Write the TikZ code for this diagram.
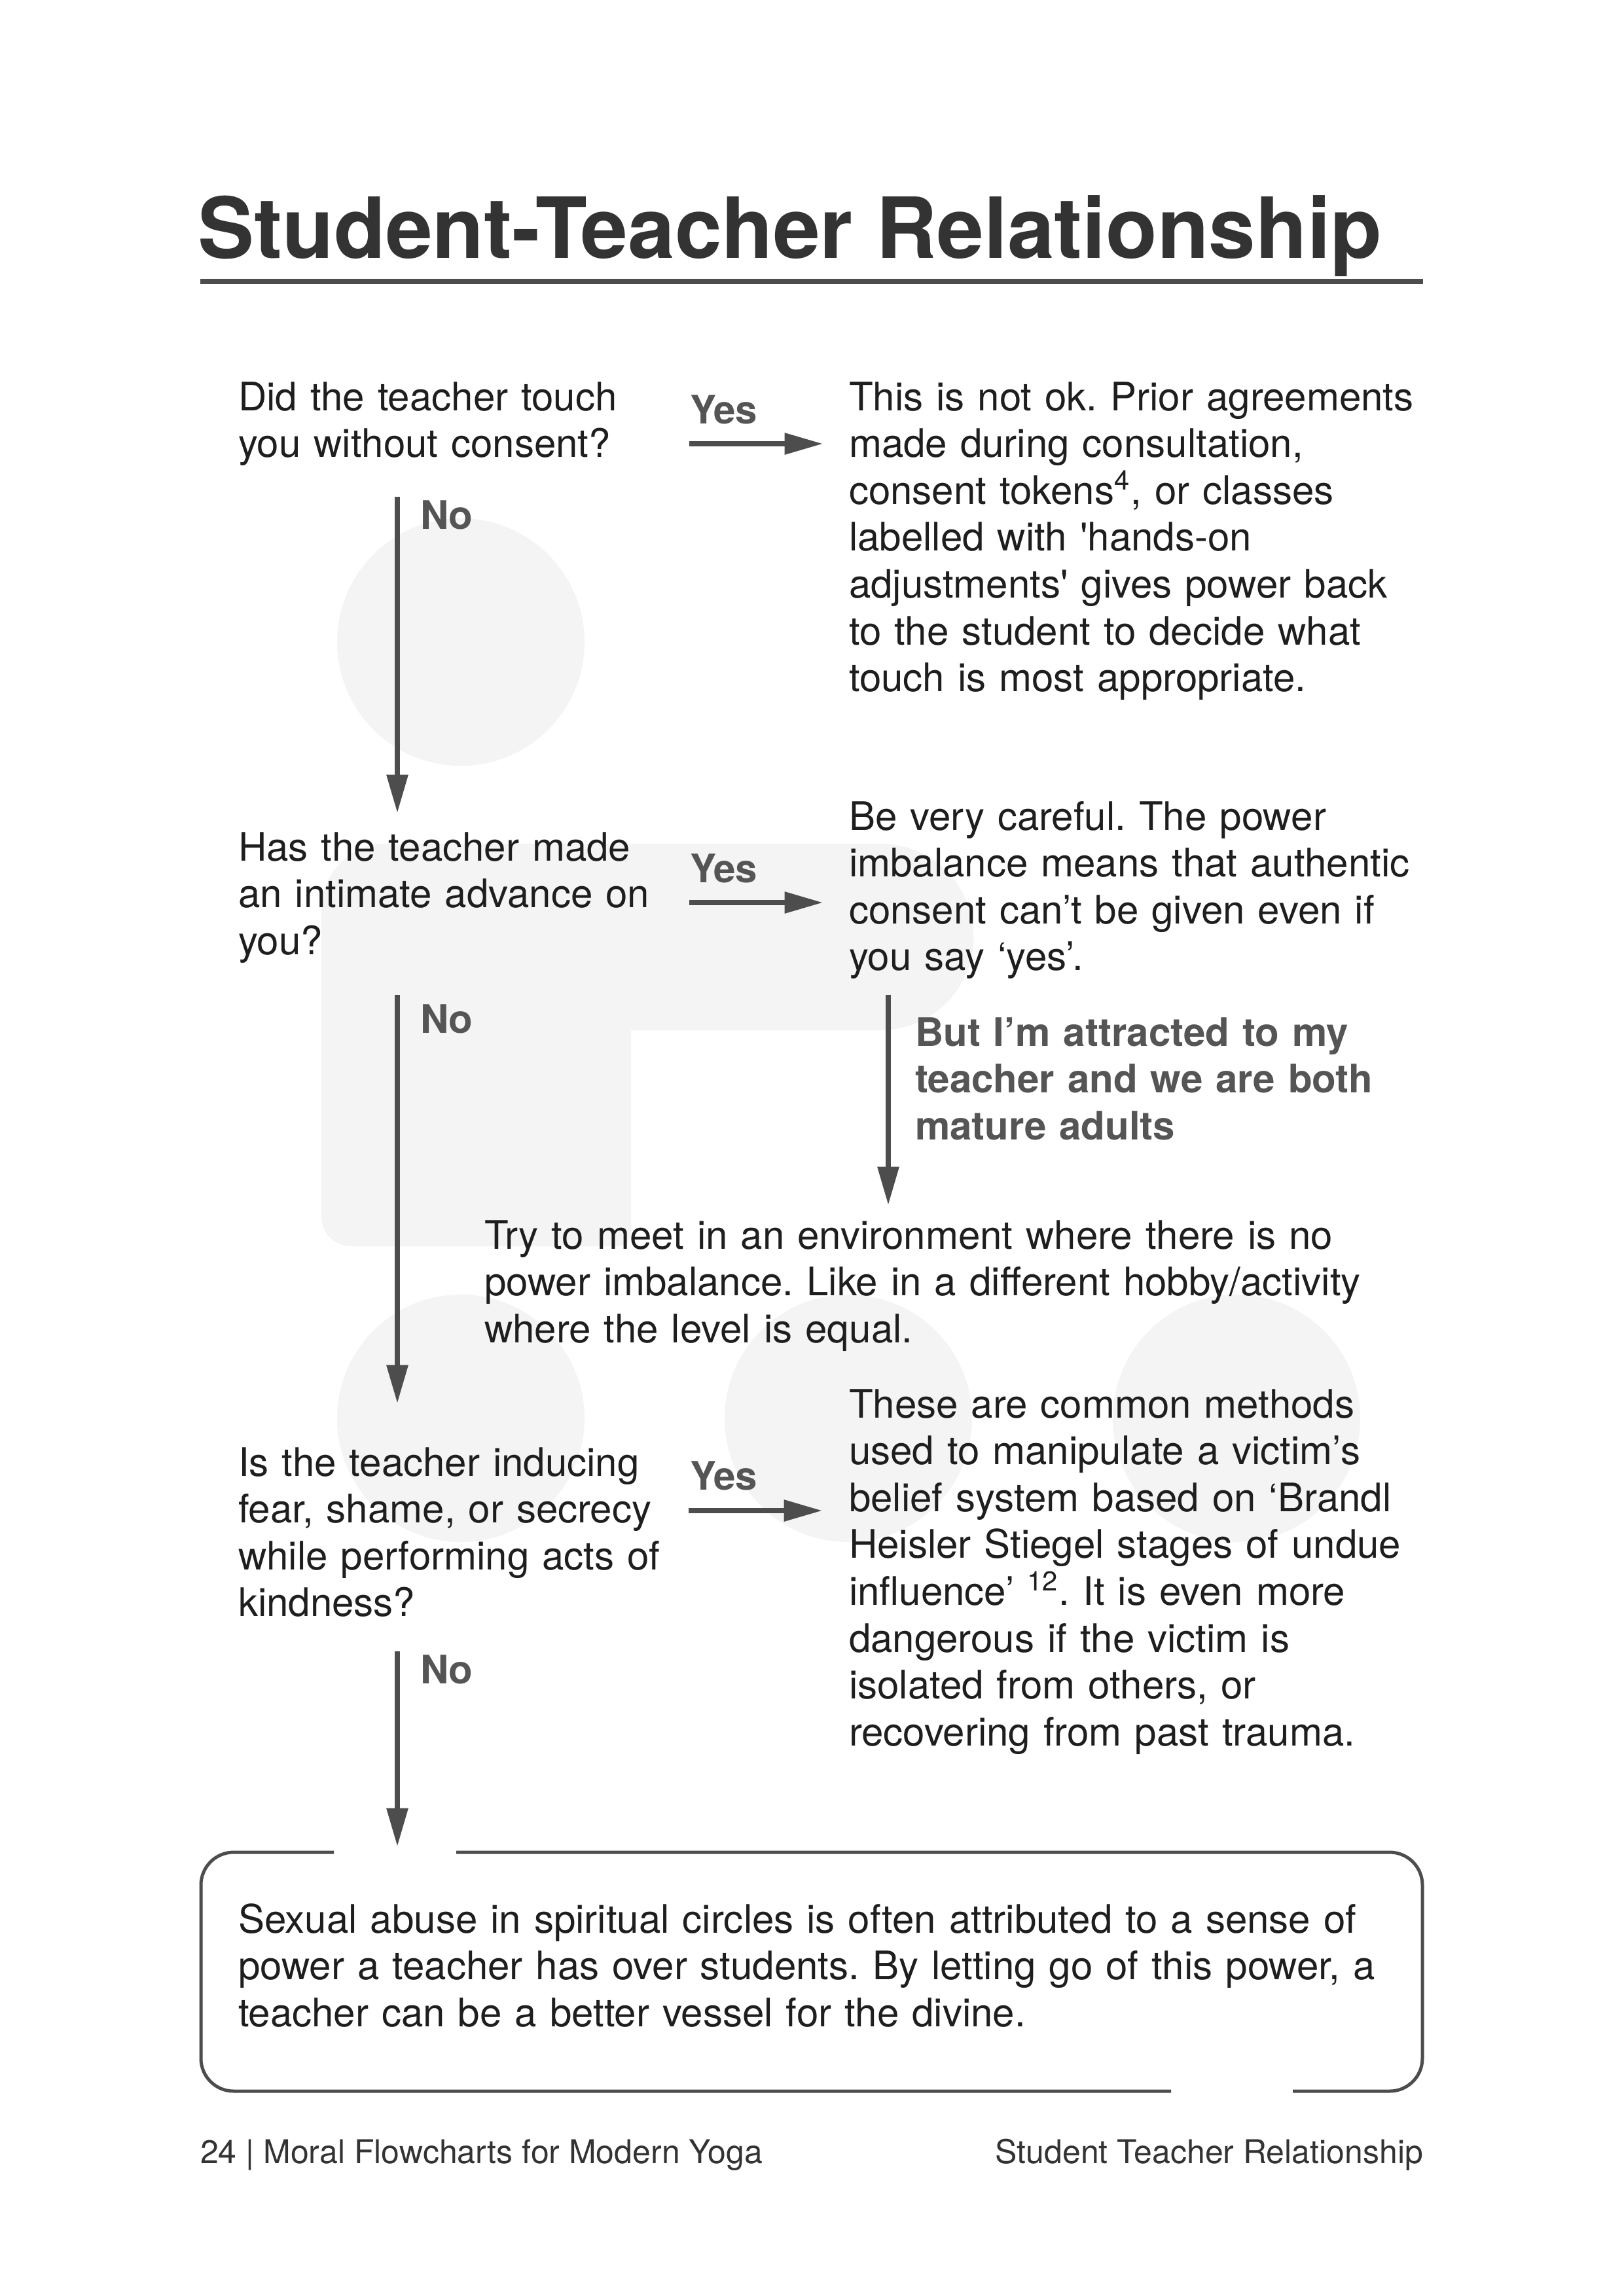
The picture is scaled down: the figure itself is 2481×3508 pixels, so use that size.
\documentclass[tikz,border=0pt]{standalone}
\usepackage{fontspec}
\setmainfont{TeX Gyre Heros}[Ligatures=TeXOff]
\usetikzlibrary{arrows.meta}
\definecolor{txt}{HTML}{1E1E1E}
\definecolor{lbl}{HTML}{555555}
\definecolor{arr}{HTML}{4D4D4D}
\definecolor{ttl}{HTML}{333333}
\definecolor{bg}{HTML}{F4F4F4}
\frenchspacing
\begin{document}
\frenchspacing
\begin{tikzpicture}[x=0.23993pt,y=-0.23993pt,
  body/.style={anchor=base west, inner sep=0pt, outer sep=0pt, text width=#1, align=left, text=txt, font=\fontsize{14.4}{17.18}\selectfont\frenchspacing},
  body/.default=260pt,
  lab/.style={anchor=base west, inner sep=0pt, outer sep=0pt, text=lbl, font=\fontsize{14.4}{17.18}\selectfont\bfseries\frenchspacing},
  flow/.style={draw=arr, line width=1.7pt, -{Triangle[length=14pt,width=7.6pt]}},
  foot/.style={inner sep=0pt, outer sep=0pt, text=ttl, font=\fontsize{12}{14}\selectfont}]
% page
\fill[white] (0,0) rectangle (2481,3508);
\useasboundingbox (0,0) rectangle (2481,3508);
% background logo shapes
\fill[bg] (704,981) circle[radius=189];
\fill[bg] (704,2167) circle[radius=189];
\fill[bg] (1296,2167) circle[radius=189];
\fill[bg] (1889,2167) circle[radius=189];
\fill[bg] (491,1389) arc[start angle=180, end angle=270, radius=100]
  -- (1345,1289) arc[start angle=270, end angle=450, radius=142.5]
  -- (964,1574) -- (964,1884) arc[start angle=0, end angle=90, radius=20]
  -- (536,1904) arc[start angle=90, end angle=180, radius=45] -- cycle;
% title
\node[anchor=base west, inner sep=0pt, text=ttl, font=\fontsize{30.9}{36}\selectfont\bfseries] (title) at (302,394) {Student-Teacher Relationship};
\draw[draw=arr, line width=1.8pt] (306,430) -- (2174,430);
% questions
\node[body] (q1) at (364,627) {Did the teacher touch\\you without consent?};
\node[body] (q2) at (364,1315) {Has the teacher made\\an intimate advance on\\you?};
\node[body] (q3) at (364,2255) {Is the teacher inducing\\fear, shame, or secrecy\\while performing acts of\\kindness?};
% answers
\node[body] (r1) at (1297,627) {This is not ok. Prior agreements\\made during consultation,\\consent tokens\textsuperscript{4}, or classes\\labelled with 'hands-on\\adjustments' gives power back\\to the student to decide what\\touch is most appropriate.};
\node[body] (r2) at (1297,1268) {Be very careful. The power\\imbalance means that authentic\\consent can’t be given even if\\you say ‘yes’.};
\node[lab, text width=260pt, align=left] (bl) at (1398,1598) {But I’m attracted to my\\teacher and we are both\\mature adults};
\node[body=360pt] (r3) at (740,1908) {Try to meet in an environment where there is no\\power imbalance. Like in a different hobby/activity\\where the level is equal.};
\node[body] (r4) at (1297,2166) {These are common methods\\used to manipulate a victim’s\\belief system based on ‘Brandl\\Heisler Stiegel stages of undue\\influence’ \textsuperscript{12}. It is even more\\dangerous if the victim is\\isolated from others, or\\recovering from past trauma.};
% labels
\node[lab] (yes1) at (1054,647) {Yes};
\node[lab] (yes2) at (1054,1348) {Yes};
\node[lab] (yes3) at (1054,2276) {Yes};
\node[lab] (no1) at (642,808) {No};
\node[lab] (no2) at (642,1578) {No};
\node[lab] (no3) at (642,2572) {No};
% connector end points
\coordinate (y1s) at (1053,678);  \coordinate (y1e) at (1257,678);
\coordinate (y2s) at (1053,1379); \coordinate (y2e) at (1257,1379);
\coordinate (y3s) at (1052,2308); \coordinate (y3e) at (1256,2308);
\coordinate (n1s) at (607,759);   \coordinate (n1e) at (607,1242);
\coordinate (n2s) at (607,1520);  \coordinate (n2e) at (607,2144);
\coordinate (n3s) at (607,2523);  \coordinate (n3e) at (607,2821);
\coordinate (b1s) at (1357,1520); \coordinate (b1e) at (1357,1841);
\draw[flow] (y1s) -- (y1e);
\draw[flow] (y2s) -- (y2e);
\draw[flow] (y3s) -- (y3e);
\draw[flow] (n1s) -- (n1e);
\draw[flow] (n2s) -- (n2e);
\draw[flow] (n3s) -- (n3e);
\draw[flow] (b1s) -- (b1e);
% bottom box with gaps
\draw[draw=arr, line width=1.2pt, rounded corners=12pt] (510,2830) -- (307,2830) -- (307,3195) -- (1789,3195);
\draw[draw=arr, line width=1.2pt, rounded corners=12pt] (1975,3195) -- (2173,3195) -- (2173,2830) -- (697,2830);
\node[body=440pt] (note) at (364,2953) {Sexual abuse in spiritual circles is often attributed to a sense of\\power a teacher has over students. By letting go of this power, a\\teacher can be a better vessel for the divine.};
% footer
\node[foot, anchor=base west] (footl) at (306,3305) {24 | Moral Flowcharts for Modern Yoga};
\node[foot, anchor=base east] (footr) at (2174,3305) {Student Teacher Relationship};
\end{tikzpicture}
\end{document}
